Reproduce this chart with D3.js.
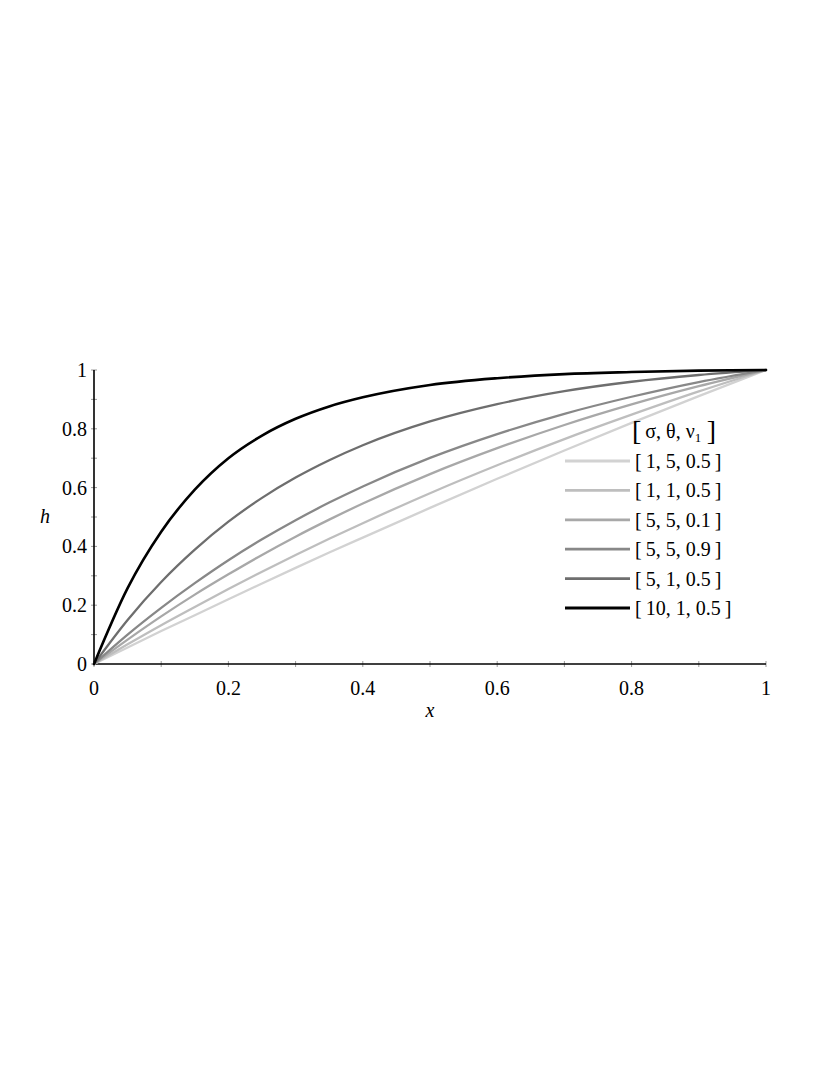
<!DOCTYPE html>
<html>
<head>
<meta charset="utf-8">
<script src="https://cdn.jsdelivr.net/npm/d3@7"></script>
<style>
  html, body { margin: 0; padding: 0; background: #fff; }
  svg { display: block; }
  text { font-family: "Liberation Serif", "Times New Roman", serif; fill: #000; }
</style>
</head>
<body>
<div id="chart"></div>
<script>
// ---- data ----
const xs = [0, 0.05, 0.1, 0.15, 0.2, 0.25, 0.3, 0.35, 0.4, 0.5, 0.6, 0.7, 0.8, 0.9, 1];
const seriesLabels = ["[\u20091, 5, 0.5\u2009]", "[\u20091, 1, 0.5\u2009]", "[\u20095, 5, 0.1\u2009]", "[\u20095, 5, 0.9\u2009]", "[\u20095, 1, 0.5\u2009]", "[\u200910, 1, 0.5\u2009]"];
const h_1_5_05  = [0, 0.056, 0.112, 0.166, 0.220, 0.274, 0.327, 0.379, 0.430, 0.531, 0.630, 0.726, 0.820, 0.911, 1];
const h_1_1_05  = [0, 0.067, 0.132, 0.194, 0.255, 0.314, 0.371, 0.426, 0.479, 0.581, 0.676, 0.765, 0.848, 0.927, 1];
const h_5_5_01  = [0, 0.083, 0.162, 0.236, 0.305, 0.371, 0.433, 0.491, 0.546, 0.646, 0.734, 0.813, 0.883, 0.945, 1];
const h_5_5_09  = [0, 0.100, 0.191, 0.275, 0.353, 0.424, 0.489, 0.549, 0.604, 0.701, 0.782, 0.851, 0.909, 0.959, 1];
const h_5_1_05  = [0, 0.150, 0.279, 0.389, 0.484, 0.565, 0.634, 0.693, 0.744, 0.825, 0.884, 0.928, 0.960, 0.983, 1];
const h_10_1_05 = [0, 0.258, 0.450, 0.593, 0.700, 0.777, 0.834, 0.876, 0.907, 0.949, 0.972, 0.986, 0.993, 0.998, 1];
const seriesValues = [h_1_5_05, h_1_1_05, h_5_5_01, h_5_5_09, h_5_1_05, h_10_1_05];
const seriesColors = ["#d2d2d2", "#bebebe", "#a8a8a8", "#888888", "#6e6e6e", "#000000"];
const xTicks = [0, 0.2, 0.4, 0.6, 0.8, 1];
const xTickLabels = ["0", "0.2", "0.4", "0.6", "0.8", "1"];
const yTicks = [0, 0.2, 0.4, 0.6, 0.8, 1];
const yTickLabels = ["0", "0.2", "0.4", "0.6", "0.8", "1"];
const minorTicks = [0.1, 0.3, 0.5, 0.7, 0.9];

// ---- drawing ----
const W = 830, H = 1075;
const svg = d3.select("#chart").append("svg").attr("width", W).attr("height", H);

const x = d3.scaleLinear().domain([0, 1]).range([94, 766]);
const y = d3.scaleLinear().domain([0, 1]).range([664, 370]);

const tickColor = "#9a9a9a";
svg.append("g").selectAll("line").data(xTicks.concat(minorTicks)).join("line")
  .attr("x1", d => x(d)).attr("x2", d => x(d))
  .attr("y1", y(0) - 3).attr("y2", y(0) + 3)
  .attr("stroke", tickColor).attr("stroke-width", 1);
svg.append("g").selectAll("line").data(yTicks.concat(minorTicks)).join("line")
  .attr("y1", d => y(d)).attr("y2", d => y(d))
  .attr("x1", x(0) - 3).attr("x2", x(0) + 3)
  .attr("stroke", tickColor).attr("stroke-width", 1);

// axis lines
svg.append("line").attr("x1", x(0)).attr("x2", x(1)).attr("y1", y(0)).attr("y2", y(0))
  .attr("stroke", "#000").attr("stroke-width", 1.6);
svg.append("line").attr("x1", x(0)).attr("x2", x(0)).attr("y1", y(0)).attr("y2", y(1))
  .attr("stroke", "#000").attr("stroke-width", 1.6);

// tick labels
svg.append("g").selectAll("text").data(xTicks).join("text")
  .attr("x", d => x(d)).attr("y", y(0) + 31)
  .attr("text-anchor", "middle").attr("font-size", 20)
  .text((d, i) => xTickLabels[i]);
svg.append("g").selectAll("text").data(yTicks).join("text")
  .attr("x", x(0) - 7).attr("y", d => y(d) + 7)
  .attr("text-anchor", "end").attr("font-size", 20)
  .text((d, i) => yTickLabels[i]);

// axis titles
svg.append("text").attr("x", x(0.5)).attr("y", 717).attr("text-anchor", "middle")
  .attr("font-size", 20).attr("font-style", "italic").text("x");
svg.append("text").attr("x", 45).attr("y", 523).attr("text-anchor", "middle")
  .attr("font-size", 20).attr("font-style", "italic").text("h");

// curves
const line = d3.line().x((d, i) => x(xs[i])).y(d => y(d)).curve(d3.curveMonotoneX);
seriesValues.forEach((vals, k) => {
  svg.append("path").attr("d", line(vals)).attr("fill", "none")
    .attr("stroke", seriesColors[k]).attr("stroke-width", k === 5 ? 2.6 : 2.3)
    .attr("stroke-linejoin", "round").attr("stroke-linecap", "round");
});

// legend
const lg = svg.append("g");
const titleT = lg.append("text").attr("x", 632).attr("y", 438).attr("font-size", 20);
titleT.append("tspan").attr("font-size", 28).attr("dy", 2).text("[");
titleT.append("tspan").attr("dy", -2).text("\u2009σ, θ, ν");
titleT.append("tspan").attr("font-size", 13).attr("dy", 4).text("1");
titleT.append("tspan").attr("font-size", 28).attr("dy", -2).text("\u2009]");

const rowY = d3.scaleLinear().domain([0, 5]).range([461, 608]);
seriesLabels.forEach((lab, k) => {
  lg.append("line").attr("x1", 565).attr("x2", 630).attr("y1", rowY(k)).attr("y2", rowY(k))
    .attr("stroke", seriesColors[k]).attr("stroke-width", k === 5 ? 3 : 2.8);
  lg.append("text").attr("x", 635).attr("y", rowY(k) + 7).attr("font-size", 20).text(lab);
});
</script>
</body>
</html>
